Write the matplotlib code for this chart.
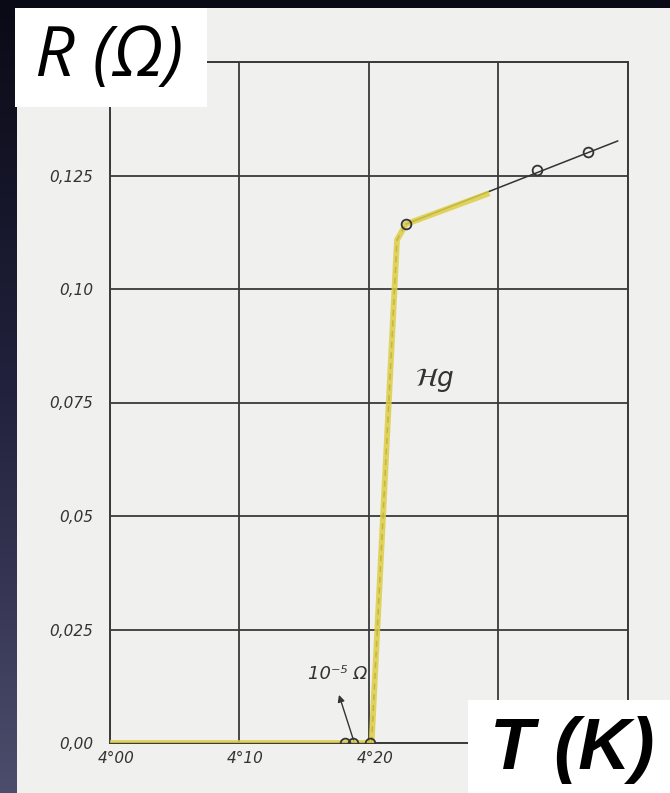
import numpy as np
import matplotlib
matplotlib.use("Agg")
import matplotlib.pyplot as plt
import matplotlib.transforms as mtransforms
from matplotlib.colors import LinearSegmentedColormap
from matplotlib.patches import Rectangle

# Onnes' mercury resistance curve near 4.2 K

# measured points (open circles)
T_points = [4.1815, 4.1877, 4.2008, 4.2286, 4.3297, 4.3690]
R_points = [0.0, 0.0, 0.0, 0.1143, 0.1262, 0.1302]

# drawn curve: baseline, steep jump, then the normal-state line
T_base = [4.00, 4.2020]
R_base = [0.0, 0.0]
T_jump = [4.2020, 4.2216, 4.2286]
R_jump = [0.0, 0.1108, 0.1143]
T_normal = [4.2286, 4.3920]
R_normal = [0.1143, 0.1326]

# highlighted stretch
T_mark = [4.00, 4.2020, 4.2216, 4.2286, 4.2930]
R_mark = [0.0, 0.0, 0.1108, 0.1143, 0.1211]

x_ticks = [4.00, 4.10, 4.20, 4.30, 4.40]
x_labels = ["4°00", "4°10", "4°20", "", ""]
y_ticks = [0.0, 0.025, 0.05, 0.075, 0.10, 0.125, 0.15]
y_labels = ["0,00", "0,025", "0,05", "0,075", "0,10", "0,125", ""]

W, H = 670, 793
ink = "#333333"

fig = plt.figure(figsize=(W / 100, H / 100), dpi=100)

# dark backdrop with the sheet of paper on it
bg = fig.add_axes([0, 0, 1, 1])
cmap = LinearSegmentedColormap.from_list("bg", ["#4c4c6c", "#22223e", "#0a0a16"])
bg.imshow(np.linspace(0, 1, 256).reshape(-1, 1), aspect="auto", cmap=cmap,
          origin="lower", extent=[0, 1, 0, 1])
bg.add_patch(Rectangle((17 / W, 0), (W - 17) / W, (H - 8) / H,
                       color="#f0f0ee", lw=0))
bg.set_xlim(0, 1)
bg.set_ylim(0, 1)
bg.axis("off")

ax = fig.add_axes([110 / W, 50 / H, 518 / W, 681 / H])
ax.set_facecolor("none")
ax.set_xlim(4.0, 4.4)
ax.set_ylim(0, 0.15)

ax.set_xticks(x_ticks)
ax.set_xticklabels(x_labels)
ax.set_yticks(y_ticks)
ax.set_yticklabels(y_labels)
ax.tick_params(length=0, labelsize=11, labelcolor=ink)
ax.tick_params(axis="y", pad=12)
ax.tick_params(axis="x", pad=6)
nudge = mtransforms.ScaledTranslation(6 / 100, 0, fig.dpi_scale_trans)
for lab in ax.get_xticklabels():
    lab.set_fontstyle("italic")
    lab.set_transform(lab.get_transform() + nudge)
for lab in ax.get_yticklabels():
    lab.set_fontstyle("italic")
ax.grid(True, color="#3a3a3a", lw=1.3)
for s in ax.spines.values():
    s.set_color("#3a3a3a")
    s.set_linewidth(1.4)

# curve
ax.plot(T_base, R_base, color=ink, lw=1.1, zorder=3)
ax.plot(T_jump, R_jump, color=ink, lw=1.1, ls=(0, (4, 3)), zorder=3)
ax.plot(T_normal, R_normal, color=ink, lw=1.1, zorder=3)
ax.plot(T_mark, R_mark, color="#ddce45", lw=4.2, alpha=0.85,
        solid_capstyle="butt", solid_joinstyle="round", zorder=4)
ax.plot(T_points, R_points, "o", ms=7, mfc="none", mec=ink, mew=1.3, zorder=5)

ax.text(4.251, 0.080, r"$\mathcal{H}g$", fontsize=19, color=ink,
        ha="center", va="center")
ax.text(4.176, 0.0152, "10⁻⁵ Ω", fontsize=13, style="italic", color=ink,
        ha="center", va="center")
ax.annotate("", xy=(4.1768, 0.0106), xytext=(4.1884, 0.0003),
            arrowprops=dict(arrowstyle="-|>", color=ink, lw=1.0,
                            mutation_scale=10, shrinkA=0, shrinkB=0))

# axis captions in white boxes
fig.patches.append(Rectangle((15 / W, (H - 107) / H), 192 / W, 99 / H,
                             transform=fig.transFigure, color="white",
                             lw=0, zorder=5))
fig.patches.append(Rectangle((468 / W, 0), (W - 468) / W, 93 / H,
                             transform=fig.transFigure, color="white",
                             lw=0, zorder=5))
fig.text(109 / W, (H - 58) / H, "R (Ω)", family=["Open Sans", "DejaVu Sans"],
         style="italic", fontsize=50, color="black", ha="center",
         va="center", zorder=6)
fig.text(572 / W, (H - 750) / H, "T (K)", family="Liberation Sans",
         weight="bold", style="italic", fontsize=52, color="black",
         ha="center", va="center", zorder=6)

fig.savefig("out.png", dpi=100)
